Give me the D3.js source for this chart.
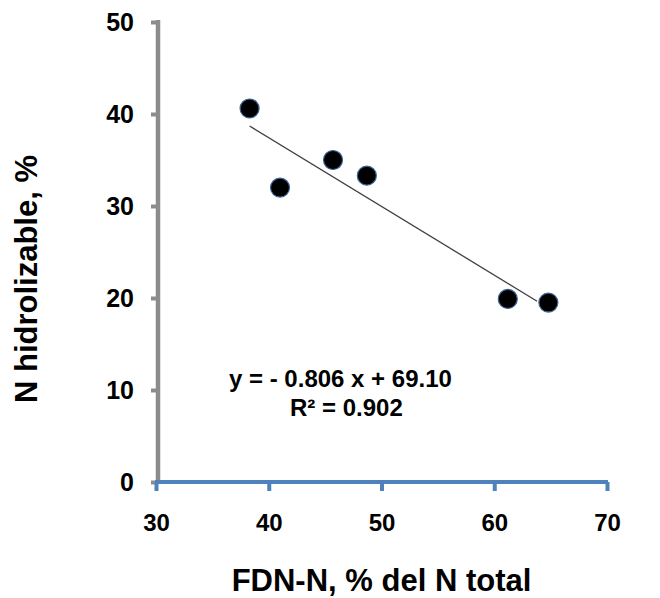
<!DOCTYPE html>
<html>
<head>
<meta charset="utf-8">
<script src="https://cdn.jsdelivr.net/npm/d3@7"></script>
<style>
  body { margin: 0; background: #fff; }
  svg text { font-family: "Liberation Sans", Arial, sans-serif; font-weight: bold; fill: #000; }
</style>
</head>
<body>
<div class="container"></div>
<script>
// values
const fdnN = [38.3, 41.0, 45.7, 48.7, 61.2, 64.8];
const nHidro = [40.6, 32.0, 35.0, 33.3, 19.9, 19.5];
const trendX = [38.3, 63.8];
const trendY = [38.7, 19.65];
const xTicks = [30, 40, 50, 60, 70];
const yTicks = [0, 10, 20, 30, 40, 50];
const eqLines = ['y = - 0.806 x + 69.10', 'R\u00B2 = 0.902'];

const w = 660, h = 598;
const padding = { top: 22, bottom: 116, left: 156, right: 53 };

const svg = d3.select('div.container')
    .append('svg')
    .attr('width', w)
    .attr('height', h);

const xScale = d3.scaleLinear()
    .domain([30, 70])
    .range([padding.left, w - padding.right]);

const yScale = d3.scaleLinear()
    .domain([0, 50])
    .range([h - padding.bottom, padding.top]);

// y axis (gray)
const yAxis = d3.axisLeft(yScale)
    .tickValues(yTicks)
    .tickSize(7)
    .tickPadding(17)
    .tickFormat(d3.format('d'));

const gy = svg.append('g')
    .attr('id', 'y-axis')
    .attr('transform', 'translate(' + (padding.left + 2) + ',0)')
    .call(yAxis);
gy.select('.domain').remove();
gy.append('line')
    .attr('x1', 0).attr('x2', 0)
    .attr('y1', yScale(50) - 2).attr('y2', yScale(0) + 2)
    .attr('stroke', '#8c8c8c')
    .attr('stroke-width', 4.5);
gy.selectAll('.tick line').attr('stroke', '#8c8c8c').attr('stroke-width', 4);
gy.selectAll('.tick text').style('font-size', '25px');

// x axis (blue)
const xAxis = d3.axisBottom(xScale)
    .tickValues(xTicks)
    .tickSize(9)
    .tickPadding(23)
    .tickFormat(d3.format('d'));

const gx = svg.append('g')
    .attr('id', 'x-axis')
    .attr('transform', 'translate(0,' + (h - padding.bottom) + ')')
    .call(xAxis);
gx.select('.domain').remove();
gx.append('line')
    .attr('x1', xScale(30) - 1).attr('x2', xScale(70) + 1)
    .attr('y1', 0).attr('y2', 0)
    .attr('stroke', '#4f81bd')
    .attr('stroke-width', 4);
gx.selectAll('.tick line').attr('stroke', '#4f81bd').attr('stroke-width', 4);
gx.selectAll('.tick text').style('font-size', '24px');

// trend line
svg.append('line')
    .attr('x1', xScale(trendX[0])).attr('y1', yScale(trendY[0]))
    .attr('x2', xScale(trendX[1])).attr('y2', yScale(trendY[1]))
    .attr('stroke', '#404040')
    .attr('stroke-width', 1.3);

// points
svg.selectAll('circle.pt')
    .data(fdnN)
    .enter()
    .append('circle')
    .attr('class', 'pt')
    .attr('cx', d => xScale(d))
    .attr('cy', (d, i) => yScale(nHidro[i]))
    .attr('r', 9.5)
    .attr('fill', '#000')
    .attr('stroke', '#3d6296')
    .attr('stroke-width', 1.2);

// equation
svg.append('text')
    .attr('x', 229).attr('y', 387)
    .style('font-size', '24px')
    .text(eqLines[0]);
svg.append('text')
    .attr('x', 290).attr('y', 416)
    .style('font-size', '24px')
    .text(eqLines[1]);

// axis titles
svg.append('text')
    .attr('x', (xScale(30) + xScale(70)) / 2)
    .attr('y', 591)
    .attr('text-anchor', 'middle')
    .style('font-size', '31px')
    .text('FDN-N, % del N total');

svg.append('text')
    .attr('transform', 'translate(37,' + 279 + ') rotate(-90)')
    .attr('text-anchor', 'middle')
    .style('font-size', '31px')
    .text('N hidrolizable, %');
</script>
</body>
</html>
